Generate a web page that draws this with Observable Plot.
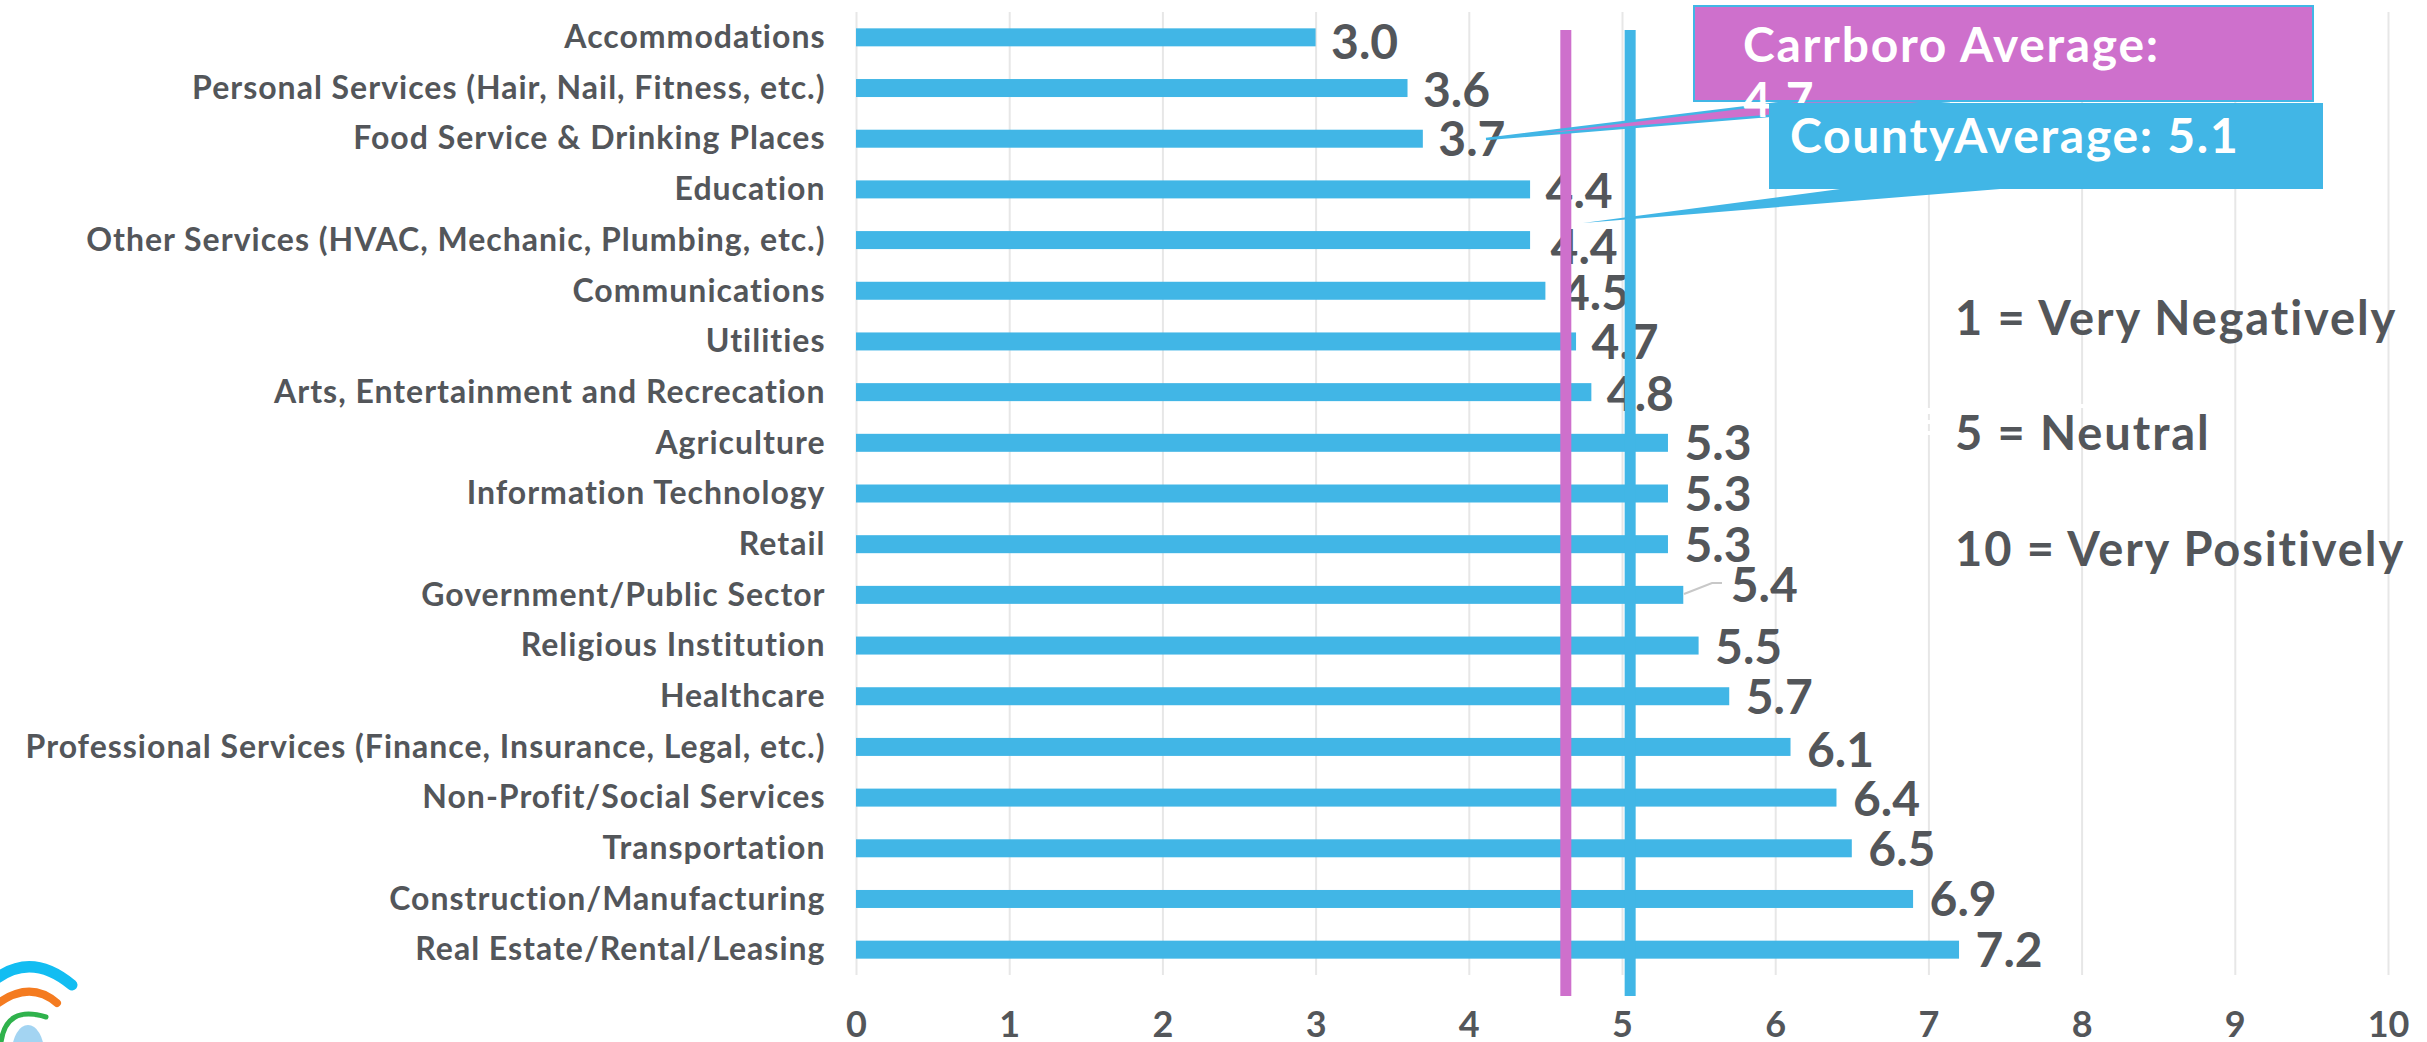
<!DOCTYPE html>
<html><head><meta charset="utf-8">
<script src="https://cdn.jsdelivr.net/npm/d3@7"></script>
<script src="https://cdn.jsdelivr.net/npm/@observablehq/plot@0.6"></script>
<style>html,body{margin:0;padding:0;background:#fff;overflow:hidden}svg{display:block;position:absolute;left:0;top:0}
[aria-label="y-axis tick label"]{letter-spacing:1px}</style>
</head><body><div id="chart"></div>
<script>
const categories = ["Accommodations","Personal Services (Hair, Nail, Fitness, etc.)","Food Service & Drinking Places","Education","Other Services (HVAC, Mechanic, Plumbing, etc.)","Communications","Utilities","Arts, Entertainment and Recrecation","Agriculture","Information Technology","Retail","Government/Public Sector","Religious Institution","Healthcare","Professional Services (Finance, Insurance, Legal, etc.)","Non-Profit/Social Services","Transportation","Construction/Manufacturing","Real Estate/Rental/Leasing"];
const values = [3.0,3.6,3.7,4.4,4.4,4.5,4.7,4.8,5.3,5.3,5.3,5.4,5.5,5.7,6.1,6.4,6.5,6.9,7.2];
const labelShiftX = [15,15,15,15,20,16,15,15,16,16,16,47,16,16,16,16,16,16,16];
const labelShiftY = [6,3,1.5,3,8,3,1.5,3,1.5,1.5,1.5,-9,3,1.5,4,3,1.5,1.5,1.5];
const carrboroAverage = 4.63;
const countyAverage = 5.05;
const xTicks = [0,1,2,3,4,5,6,7,8,9,10];
const scaleNotes = ["1 = Very Negatively","5 = Neutral","10 = Very Positively"];

const FONT = "Lato, 'Open Sans', sans-serif";
const INK = "#53565a", BLUE = "#41b6e6", PINK = "#ce70cc", GRID = "#e7e7e7";
const rows = categories.map((c,i)=>({c,v:values[i],dx:labelShiftX[i],dy:labelShiftY[i]}));
const svgEl = (n,a,t)=>{const e=document.createElementNS("http://www.w3.org/2000/svg",n);for(const k in a)e.setAttribute(k,a[k]);if(t!=null)e.textContent=t;return e;};

// callouts, notes and logo: placed over the chart in the page's pixel frame
function annotations(){
  const g = svgEl("g",{"text-anchor":"start"});
  const add=(n,a,t)=>g.appendChild(svgEl(n,a,t));
  const big={"font-size":48,"font-weight":700,"font-family":FONT,"letter-spacing":"1.7px"};
  // small gaps in the gridlines left by a hidden box
  [[1926,408,6],[1926,420,4],[1926,431,4],[2079,404,4]].forEach(([x,y,h])=>add("rect",{x,y,width:5,height:h,fill:"#fff"}));
  // Carrboro callout
  add("polygon",{points:"1486,139 1796,101 1950,101",fill:PINK,stroke:BLUE,"stroke-width":2.5});
  add("rect",{x:1694,y:6,width:619,height:95,fill:PINK,stroke:BLUE,"stroke-width":2});
  add("text",{x:1743,y:62,fill:"#fff",...big},"Carrboro Average:");
  add("text",{x:1743,y:117,fill:"#fff",...big},"4.7");
  // County callout
  add("polygon",{points:"1583,223 1840,189 2000,189",fill:BLUE});
  add("rect",{x:1769,y:103,width:554,height:86,fill:BLUE});
  add("text",{x:1790,y:153,fill:"#fff",...big},"CountyAverage: 5.1");
  // leader line for the 5.4 label
  add("polyline",{points:"1684,594 1712,583 1722,583",fill:"none",stroke:"#c8c8c8","stroke-width":2});
  // scale notes
  [[335,scaleNotes[0]],[450,scaleNotes[1]],[566,scaleNotes[2]]].forEach(([y,t])=>
    add("text",{x:1955,y,fill:INK,...big,"font-size":47,"letter-spacing":"1.9px"},t));
  // logo
  const arc=(d,c,w)=>add("path",{d,fill:"none",stroke:c,"stroke-width":w,"stroke-linecap":"round"});
  arc("M-8,982 Q30,950 72,985","#12bdf2",11);
  arc("M-8,1008 Q28,978 57,1003","#f47b20",8);
  arc("M1,1042 Q6,1005 46,1017","#2fb24c",5);
  add("ellipse",{cx:28,cy:1052,rx:16,ry:27,fill:"#a3d4f2"});
  return g;
}

const chart = Plot.plot({
  width:2427, height:1042, marginLeft:856, marginRight:39, marginTop:12, marginBottom:67,
  style:{background:"#fff",fontFamily:FONT,overflow:"visible"},
  x:{domain:[0,10],ticks:xTicks,label:null},
  y:{domain:categories,label:null,paddingInner:0.645,paddingOuter:0.3225,align:0.5,round:false},
  marks:[
    Plot.ruleX(xTicks,{stroke:GRID,strokeWidth:2}),
    Plot.barX(rows,{y:"c",x:"v",fill:BLUE}),
    Plot.axisY({anchor:"left",tickSize:0,tickPadding:31,fontSize:32,fontWeight:700,fill:INK,label:null}),
    Plot.axisX(xTicks,{anchor:"bottom",tickSize:0,tickPadding:36,fontSize:36,fontWeight:700,fill:INK,label:null,tickFormat:d3.format("d")}),
    ...rows.map(d=>Plot.text([d],{y:"c",x:"v",text:r=>r.v.toFixed(1),dx:d.dx,dy:d.dy,textAnchor:"start",fontSize:48,fontWeight:700,fill:INK})),
    Plot.ruleX([carrboroAverage],{stroke:PINK,strokeWidth:11,insetTop:18,insetBottom:-21}),
    Plot.ruleX([countyAverage],{stroke:BLUE,strokeWidth:11,insetTop:18,insetBottom:-21}),
    ()=>annotations()
  ]
});
document.getElementById("chart").append(chart);
</script></body></html>
